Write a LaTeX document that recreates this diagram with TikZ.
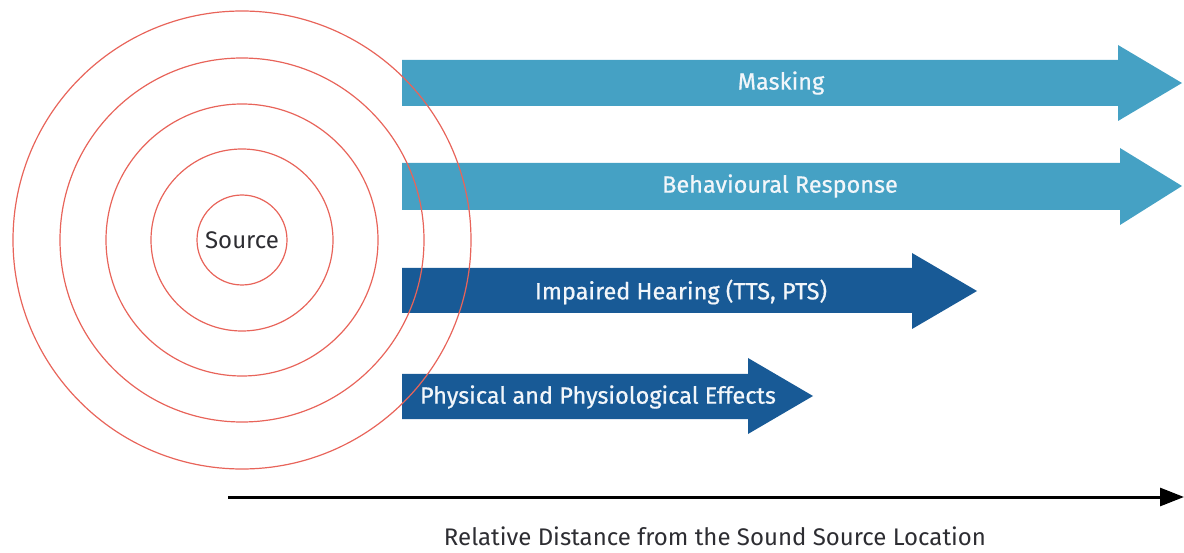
\documentclass[tikz,border=0pt]{standalone}
\usepackage{fontspec}
\setmainfont{Fira Sans}
\newfontfamily\arrowfont{Fira Sans}[FakeBold=0.6]
\usetikzlibrary{arrows.meta}
\definecolor{lightblue}{RGB}{69,161,196}
\definecolor{darkblue}{RGB}{24,90,150}
\definecolor{ringred}{RGB}{232,100,90}
\definecolor{txtwhite}{RGB}{242,246,250}
\definecolor{txtdark}{RGB}{45,45,50}
\tikzset{
  lightarrow/.style={fill=lightblue, draw=none},
  darkarrow/.style={fill=darkblue, draw=none},
  ring/.style={draw=ringred, line width=1.2pt},
  arrowtext/.style={text=txtwhite, font=\arrowfont\fontsize{23.5}{26}\selectfont, inner sep=0pt},
  plaintext/.style={text=txtdark, font=\fontsize{24}{27}\selectfont, inner sep=0pt},
}
\begin{document}
\begin{tikzpicture}[x=1pt,y=-1pt]
\useasboundingbox (0,0) rectangle (1184,553);
% arrows
\path[lightarrow] (402,60) -- (1118,60) -- (1118,45) -- (1182,83) -- (1118,121) -- (1118,106) -- (402,106) -- cycle;
\path[lightarrow] (402,163) -- (1120,163) -- (1120,148) -- (1182,186) -- (1120,225) -- (1120,210) -- (402,210) -- cycle;
\path[darkarrow] (402,268) -- (912,268) -- (912,253) -- (977,291) -- (912,329) -- (912,313) -- (402,313) -- cycle;
\path[darkarrow] (402,374) -- (748,374) -- (748,358) -- (813,396) -- (748,434) -- (748,419) -- (402,419) -- cycle;
% rings
\foreach \r in {45,91,136,182,229} {
  \draw[ring] (242,240) circle[radius=\r];
}
% labels
\node[arrowtext] (masking) at (781,83) {Masking};
\node[arrowtext] (behav) at (780,186) {Behavioural Response};
\node[arrowtext] (impaired) at (681,292) {Impaired Hearing (TTS, PTS)};
\node[arrowtext] (physical) at (598,397) {Physical and Physiological Effects};
\node[plaintext] (source) at (242,240) {Source};
% axis
\coordinate (axS) at (228,497);
\coordinate (axE) at (1184,497);
\draw[line width=3pt, -{Triangle[length=24pt,width=18pt]}] (axS) -- (axE);
\node[plaintext, anchor=base] (axlabel) at (715,545) {Relative Distance from the Sound Source Location};
\end{tikzpicture}
\end{document}
